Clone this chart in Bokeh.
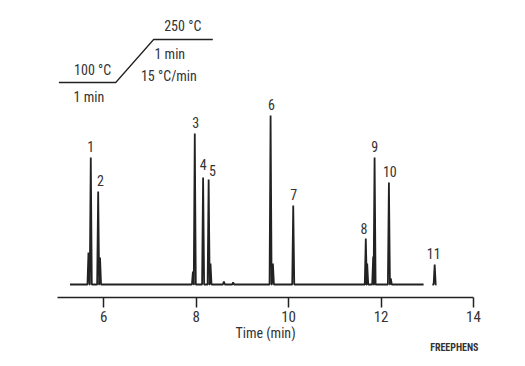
from bokeh.plotting import figure
from bokeh.models import Range1d, FixedTicker, Label, ColumnDataSource, Title
from bokeh.embed import file_html
from bokeh.resources import INLINE

# ---- data ----
peak_ids = ["1", "2", "3", "4", "5", "6", "7", "8", "9", "10", "11"]
peak_times = [5.72, 5.88, 7.97, 8.15, 8.27, 9.61, 10.10, 11.67, 11.86, 12.17, 13.16]
peak_heights = [127, 93, 151, 107, 105, 169, 79, 46, 127, 102, 20]
label_dx = [0.0, 0.05, 0.02, 0.0, 0.08, 0.02, 0.01, -0.04, 0.0, 0.02, -0.02]
label_dy = [11, 11, 11, 13, 9, 11, 11, 10, 11, 11, 11]

minor_times = [5.67, 5.92, 7.93, 8.31, 8.60, 8.80, 9.66, 11.70, 11.83, 12.21]
minor_heights = [32, 27, 13, 21, 3, 2, 21, 21, 28, 6]

baseline_start = 5.27
baseline_end = 12.92

tick_values = [6, 8, 10, 12, 14]

# temperature program schematic (annotation)
prog_x = [5.03, 6.26, 7.08, 8.36]
prog_y = [202, 202, 245, 245]

FONT = "Liberation Sans Narrow, Roboto Condensed, DejaVu Sans Condensed, Liberation Sans, sans-serif"
INK = "#222222"
TXT = "#333333"

p = figure(width=517, height=358, output_backend="svg", toolbar_location=None,
           x_range=Range1d(5, 14), y_range=Range1d(-13, 276),
           y_axis_location=None, min_border_left=57, min_border_right=44,
           min_border_top=8, min_border_bottom=61)
p.outline_line_color = None
p.xgrid.visible = False
p.ygrid.visible = False
p.background_fill_color = "white"
p.border_fill_color = "white"

# ---- build trace from the peak lists ----
w = 0.022
main = [(t, h) for t, h in zip(peak_times, peak_heights) if t < baseline_end]
main += [(t, h) for t, h in zip(minor_times, minor_heights)]
main.sort()
xs = [baseline_start]
ys = [0]
for t, h in main:
    xs += [t - w, t, t + w]
    ys += [0, h, 0]
xs.append(baseline_end)
ys.append(0)
p.line(xs, ys, line_color=INK, line_width=1.8)

# isolated last peak
late = [(t, h) for t, h in zip(peak_times, peak_heights) if t > baseline_end]
for t, h in late:
    p.line([t - 0.05, t - w, t, t + w, t + 0.04], [0, 0, h, 0, 0],
           line_color=INK, line_width=1.8)

# peak labels
src = ColumnDataSource(dict(x=[t + d for t, d in zip(peak_times, label_dx)],
                            y=[h + d for h, d in zip(peak_heights, label_dy)],
                            text=peak_ids))
p.text("x", "y", text="text", source=src, text_align="center",
       text_baseline="middle", text_font_size="14px", text_color=TXT,
       text_font={"value": FONT})

# temperature program
p.line(prog_x, prog_y, line_color=INK, line_width=1.3)
for tx, ty, s in [(5.76, 215, "100 °C"), (5.68, 188, "1 min"),
                  (7.71, 259, "250 °C"), (7.43, 231, "1 min"),
                  (7.41, 209, "15 °C/min")]:
    p.add_layout(Label(x=tx, y=ty, text=s, text_align="center",
                       text_baseline="middle", text_font_size="14px",
                       text_color=TXT, text_font=FONT))

# axis
ax = p.xaxis[0]
ax.ticker = FixedTicker(ticks=tick_values)
ax.minor_tick_line_color = None
ax.major_tick_in = 0
ax.major_tick_out = 10
ax.axis_line_width = 1.5
ax.axis_line_color = INK
ax.major_tick_line_width = 1.5
ax.major_tick_line_color = INK
ax.major_label_text_font = FONT
ax.major_label_text_font_size = "15px"
ax.major_label_text_color = TXT
ax.major_label_standoff = 3
ax.axis_label = "Time (min)"
ax.axis_label_text_font = FONT
ax.axis_label_text_font_size = "14px"
ax.axis_label_text_font_style = "normal"
ax.axis_label_text_color = TXT
ax.axis_label_standoff = 0

credit = Title(text="FREEPHENS", align="right", text_font_size="10px",
               text_font_style="bold", text_color=TXT, text_font=FONT,
               offset=-5, standoff=-7)
p.add_layout(credit, "below")

open("out.html", "w").write(file_html(p, INLINE))
